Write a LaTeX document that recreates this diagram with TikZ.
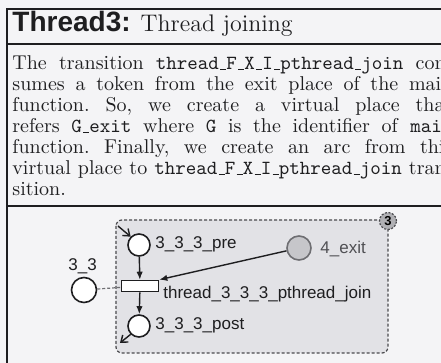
\documentclass[tikz,border=0pt]{standalone}
\usepackage{fontspec}
\newfontfamily\netfont{Liberation Sans}
\usetikzlibrary{arrows.meta}

% low, short underscore as drawn in typewriter code
\newcommand\tund{\leavevmode\kern0.6pt\vbox{\hrule width 3.15pt height 0.45pt}}

\definecolor{paper}{HTML}{F4F4F6}
\definecolor{ink}{HTML}{1E1E20}
\definecolor{boxfill}{HTML}{E2E2E6}
\definecolor{boxline}{HTML}{4A4A4E}
\definecolor{vfill}{HTML}{C6C6CA}
\definecolor{vline}{HTML}{6E6E72}
\definecolor{vtext}{HTML}{505054}
\definecolor{badgefill}{HTML}{B0B0B4}

\tikzset{
  frameline/.style={draw=ink, line width=0.75pt},
  bodyline/.style={anchor=base west, inner sep=0pt, text=ink,
    font=\fontsize{10}{11}\selectfont\frenchspacing},
  titletext/.style={anchor=base west, inner sep=0pt, text=ink},
  place/.style={circle, draw=ink, fill=white, line width=0.8pt,
    minimum size=11pt, inner sep=0pt},
  vplace/.style={place, draw=vline, fill=vfill, minimum size=12pt},
  trans/.style={rectangle, draw=ink, fill=white, line width=0.8pt,
    minimum width=18.5pt, minimum height=5.5pt, inner sep=0pt},
  netlabel/.style={anchor=base west, inner sep=0pt, text=ink,
    font=\netfont\fontsize{8.5}{10}\selectfont},
  arc/.style={draw=ink, line width=0.7pt, -{Latex[length=4pt,width=3.2pt]}},
  portarrow/.style={draw=ink, line width=0.7pt,
    -{Straight Barb[length=3pt,width=4.5pt]}},
  groupbox/.style={draw=boxline, fill=boxfill, line width=0.6pt,
    dash pattern=on 1.5pt off 1pt, rounded corners=3pt},
  badge/.style={circle, draw=boxline, fill=badgefill, line width=0.6pt,
    dash pattern=on 1pt off 0.8pt, minimum size=8.5pt, inner sep=0pt,
    font=\netfont\bfseries\fontsize{6.5}{7}\selectfont},
  linkline/.style={draw=vline, line width=0.6pt, dash pattern=on 1.5pt off 1pt},
}

\begin{document}
\begin{tikzpicture}[x=0.5pt, y=-0.5pt]
\useasboundingbox (0,0) rectangle (441,363);
\clip (0,0) rectangle (441,363);
\fill[paper] (0,0) rectangle (441,363);

% frame of the box and its two rules
\draw[frameline] (480,9) -- (7,9) -- (7,380);
\draw[frameline] (7,44) -- (480,44);
\draw[frameline] (7,206) -- (480,206);

% heading
\node[titletext] (title) at (12,32)
  {\netfont\bfseries\fontsize{14}{16}\selectfont Thread3:\hspace{5pt}%
   \rmfamily\mdseries\fontsize{12}{14}\selectfont Thread joining};

% explanatory paragraph, one justified line per node
\node[bodyline] (line1) at (12,70)
  {\hbox to 220pt{The transition \texttt{thread\tund F\tund X\tund I\tund pthread\tund join} con-}};
\node[bodyline] (line2) at (12,91)
  {\hbox to 220pt{sumes a token from the exit place of the main}};
\node[bodyline] (line3) at (12,112)
  {\hbox to 220pt{function. So, we create a virtual place that}};
\node[bodyline] (line4) at (12,133)
  {\hbox to 220pt{refers \texttt{G\tund exit} where \texttt{G} is the identifier of \texttt{main}}};
\node[bodyline] (line5) at (12,154)
  {\hbox to 220pt{function. Finally, we create an arc from this}};
\node[bodyline] (line6) at (12,175)
  {\hbox to 220pt{virtual place to \texttt{thread\tund F\tund X\tund I\tund pthread\tund join} tran-}};
\node[bodyline] (line7) at (12,196) {sition.};

% net fragment: group of the thread
\draw[groupbox] (116,220) rectangle (388,353);
\node[badge] (grp) at (388,221) {3};

\node[place] (pre) at (139,245) {};
\node[trans] (join) at (140,286) {};
\node[place] (post) at (139,326) {};
\node[vplace] (exit) at (299,248) {};
\node[place, minimum size=12.5pt] (p33) at (84,290) {};

\coordinate (entry) at (118,226);
\coordinate (leave) at (120,343);

\node[netlabel] (prelbl) at (155,249) {3\_3\_3\_pre};
\node[netlabel] (joinlbl) at (163,299) {thread\_3\_3\_3\_pthread\_join};
\node[netlabel] (postlbl) at (155,330) {3\_3\_3\_post};
\node[netlabel, text=vtext] (exitlbl) at (320,254) {4\_exit};
\node[netlabel] (p33lbl) at (68,271) {3\_3};

\draw[portarrow] (entry) -- (pre.135);
\draw[arc] (pre) -- (join);
\draw[arc] (join) -- (post);
\draw[arc] (exit) -- (join.north east);
\draw[portarrow] (post.225) -- (leave);
\draw[linkline] (p33) -- (join);
\end{tikzpicture}
\end{document}
